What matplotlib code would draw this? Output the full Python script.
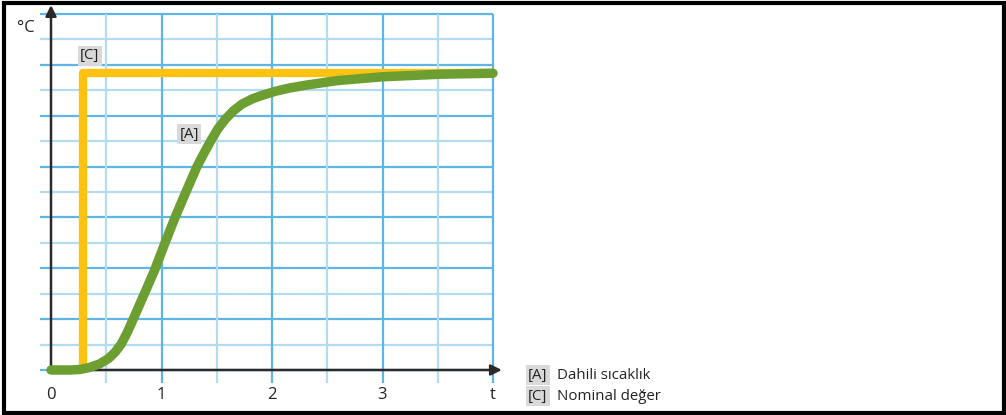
"""Step response chart: internal temperature vs. setpoint."""

import matplotlib

matplotlib.use("Agg")
import matplotlib.pyplot as plt
import numpy as np
from matplotlib.patches import Rectangle

plt.rcParams["font.family"] = ["Open Sans", "DejaVu Sans"]

# [A] internal temperature (t, grid units)
t_internal = [0.0, 0.17, 0.26, 0.35, 0.44, 0.52, 0.58, 0.635, 0.685, 0.73,
              0.835, 0.94, 1.03, 1.12, 1.22, 1.32, 1.385, 1.45, 1.51, 1.575,
              1.65, 1.73, 1.82, 1.91, 2.03, 2.16, 2.32, 2.59, 3.0, 3.52, 4.0]
temp_internal = [0.0, 0.0, 0.02, 0.1, 0.24, 0.45, 0.7, 1.02, 1.43, 1.86,
                 2.9, 3.95, 4.98, 5.97, 6.99, 7.99, 8.53, 9.04, 9.48, 9.85,
                 10.19, 10.46, 10.66, 10.8, 10.96, 11.09, 11.21, 11.38,
                 11.53, 11.63, 11.67]

# [C] setpoint
t_setpoint = [0.29, 0.29, 4.0]
temp_setpoint = [0.0, 11.68, 11.68]

x_ticks = [0, 1, 2, 3]
x_tick_labels = ["0", "1", "2", "3"]
legend_keys = ["[A]", "[C]"]
legend_texts = ["Dahili sıcaklık", "Nominal değer"]

GREEN = "#6d9e31"
YELLOW = "#ffc20e"
GRID_MAJOR = "#5db6e6"
GRID_MINOR = "#b3dcf2"
AXIS = "#2a2a2a"
TAG_BG = "#d9d9d9"

W, H = 1006, 415
X0, XS = 51, 110.5   # pixel of t=0, pixels per unit
Y0, YS = 370, 25.43  # pixel of temp=0 (from top), pixels per grid unit

fig = plt.figure(figsize=(W / 100, H / 100), dpi=100)
ax = fig.add_axes([0, 0, 1, 1])
ax.set_xlim(-X0 / XS, (W - X0) / XS)
ax.set_ylim((Y0 - H) / YS, Y0 / YS)
ax.axis("off")

# grid
t_max, y_max = 4.0, 14
for y in range(0, y_max + 1):
    col = GRID_MAJOR if y % 2 == 0 else GRID_MINOR
    ax.hlines(y, -0.1, t_max, color=col, lw=1.6, zorder=1)
for x in np.arange(0.5, t_max + 0.01, 0.5):
    col = GRID_MAJOR if float(x).is_integer() else GRID_MINOR
    ax.vlines(x, -0.51, y_max, color=col, lw=1.6, zorder=1)

# axes with arrows
ax.annotate("", xy=(0, 14.35), xytext=(0, -0.02),
            arrowprops=dict(arrowstyle="-|>", color=AXIS, lw=1.8,
                            mutation_scale=16, shrinkA=0, shrinkB=0),
            zorder=2)
ax.annotate("", xy=(4.08, 0), xytext=(-0.01, 0),
            arrowprops=dict(arrowstyle="-|>", color=AXIS, lw=1.8,
                            mutation_scale=16, shrinkA=0, shrinkB=0),
            zorder=2)

# curves
ax.plot(t_setpoint, temp_setpoint, color=YELLOW, lw=6.0,
        solid_joinstyle="round", solid_capstyle="butt", zorder=3)
ax.plot(t_internal, temp_internal, color=GREEN, lw=6.8,
        solid_joinstyle="round", solid_capstyle="round", zorder=4)

# tick labels
for x, lab in zip(x_ticks, x_tick_labels):
    ax.text(x, -1.0, lab, ha="center", va="center", fontsize=12, color="#222")
ax.text(t_max, -1.0, "t", ha="center", va="center", fontsize=12, color="#222")
ax.text(-0.23, 13.45, "°C", ha="center", va="center", fontsize=12, color="#222")

tag_box = dict(boxstyle="square,pad=0.15", fc=TAG_BG, ec="none")
ax.text(0.35, 12.35, "[C]", ha="center", va="center", fontsize=10.8,
        color="#222", bbox=tag_box, zorder=5)
ax.text(1.25, 9.28, "[A]", ha="center", va="center", fontsize=10.8,
        color="#222", bbox=tag_box, zorder=5)

# legend
for i, (key, txt) in enumerate(zip(legend_keys, legend_texts)):
    ly = -0.2 - i * 0.83
    ax.text(4.405, ly, key, ha="center", va="center", fontsize=10.8,
            color="#222", bbox=tag_box)
    ax.text(4.58, ly, txt, ha="left", va="center", fontsize=10.8, color="#222")

# outer frame
fig.patches.append(Rectangle((3.5 / W, 2.5 / H), 1000.5 / W, 409.5 / H,
                             transform=fig.transFigure, fill=False,
                             ec="black", lw=3.0))

fig.savefig("out.png", dpi=100)
plt.close(fig)
